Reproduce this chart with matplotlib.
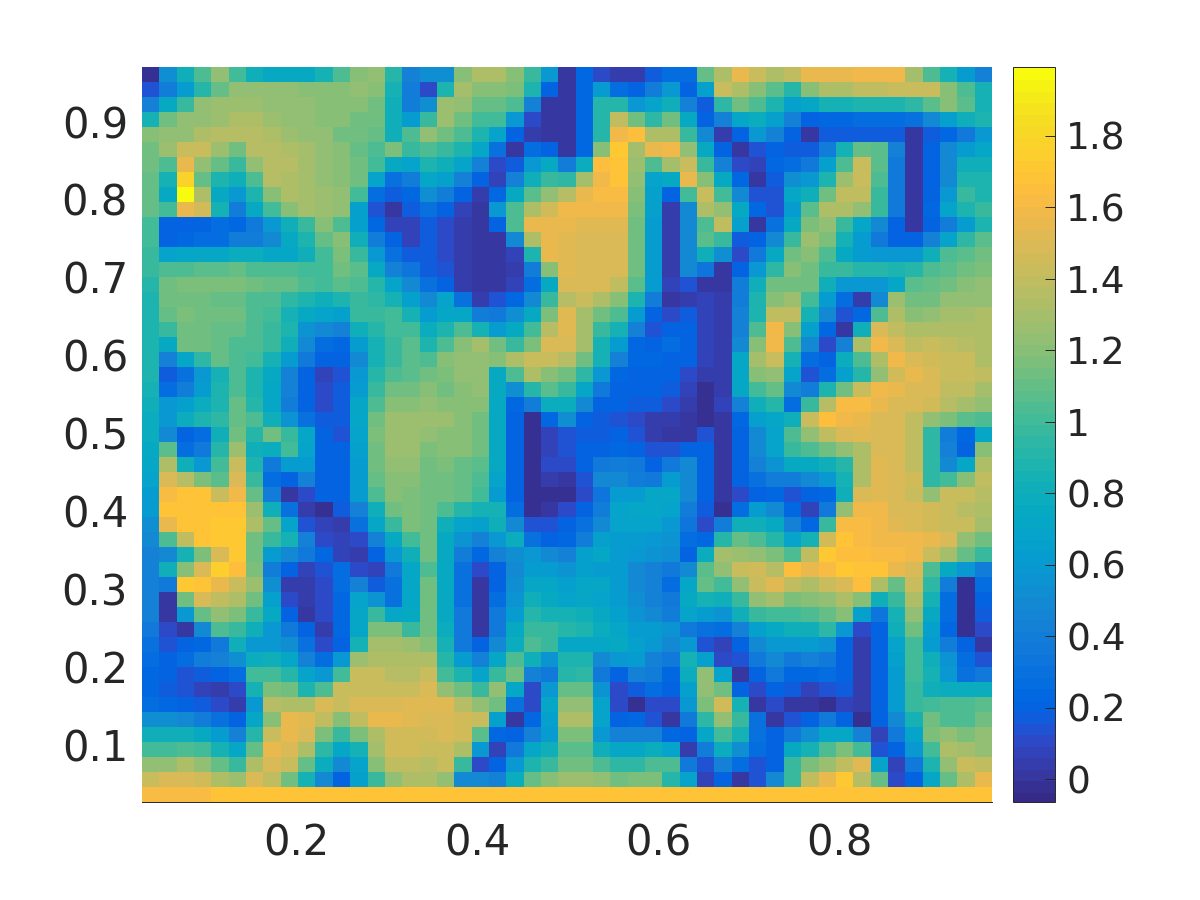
import numpy as np
import matplotlib
matplotlib.use("Agg")
import matplotlib.pyplot as plt
from matplotlib.colors import ListedColormap

r00 = [0.0,.53,.81,1.06,1.23,1.01,.81,.75,.75,.75,.86,1.06,1.19,1.23,.93,.45,.53, .53,1.19,1.32,1.32,1.19,.97,.6,.02,.25,.1,.06,.05,.18,.29,.29,1.1, 1.32,1.56,1.44,1.32,1.4,1.56,1.56,1.56,1.58,1.58,1.58,1.3,1.06,.86,.63,.43]
r01 = [.15,.39,.63,.93,1.1,1.23,1.23,1.23,1.23,1.19,1.19,1.19,1.23,1.19,.86,.39,.12, .88,1.3,1.2,1.2,1.16,.89,.2,.02,.25,.63,.29,.2,.39,.6,.22,.66, 1.44,1.35,1.19,1.08,.93,1.19,1.35,1.35,1.39,1.39,1.42,1.44,1.44,1.21,1.04,.86]
r02 = [.45,.75,.97,1.23,1.28,1.28,1.28,1.23,1.23,1.23,1.19,1.19,1.19,1.15,.83,.39,.53, 1.28,1.23,1.1,1.1,1.04,.43,.03,.02,.25,.91,.91,.58,.68,.83,.45,.18, .95,1.15,1.04,.89,.66,.71,.86,.86,.89,.89,.89,.95,1.08,1.19,1.08,.86]
r03 = [.86,1.15,1.23,1.23,1.28,1.32,1.32,1.28,1.23,1.23,1.19,1.19,1.15,1.15,.83,.63,.97, 1.28,1.13,1.01,1.01,.6,.1,.03,.02,.25,.93,1.4,1.13,.95,1.13,.75,.22, .43,.71,.79,.66,.43,.2,.25,.25,.28,.28,.28,.32,.49,.66,.83,.9]
r04 = [1.19,1.23,1.23,1.32,1.37,1.37,1.37,1.32,1.28,1.23,1.23,1.15,1.15,1.1,.81,1.06,1.23, 1.15,1.04,.88,.68,.2,.04,.02,.02,.25,.93,1.6,1.65,1.35,1.35,.97,.49, .05,.22,.58,.43,.2,.02,.17,.17,.17,.17,.17,.01,.18,.25,.36,.58]
r05 = [1.15,1.28,1.42,1.42,1.28,1.15,1.37,1.37,1.32,1.3,1.23,1.19,1.1,1.06,1.16,.97,1.06, .98,.88,.71,.32,.02,.29,.2,.02,.25,1.19,1.72,1.3,1.55,1.58,1.23,.75, .22,.03,.13,.2,.17,.17,.39,.86,1.1,1.08,.43,.01,.2,.49,.63,.71]
r06 = [1.15,1.06,1.56,1.23,1.1,.97,1.23,1.37,1.37,1.3,1.23,1.19,1.15,1.01,.75,.68,.89, .81,.68,.45,.12,.18,.58,.75,.39,.79,1.65,1.7,1.28,1.04,1.3,1.44,.98, .45,.12,.08,.25,.29,.36,.66,1.06,1.44,1.08,.36,.01,.2,.49,.83,.83]
r07 = [1.1,.86,1.8,1.1,.89,.81,1.06,1.37,1.32,1.3,1.25,1.19,1.15,.68,.32,.39,.71, .66,.43,.22,.08,.45,.83,.98,.95,1.3,1.6,1.68,1.25,.68,.75,1.56,1.19, .75,.25,.02,.18,.53,.58,.89,1.28,1.44,1.04,.36,.01,.2,.49,.9,.89]
r08 = [1.1,.75,2.0,1.32,.75,.58,.88,1.19,1.34,1.3,1.28,1.23,1.01,.29,.17,.25,.53, .39,.2,.05,.25,.75,1.08,1.25,1.37,1.56,1.62,1.62,1.21,.66,.2,1.01,1.42, 1.01,.49,.13,.15,.71,.83,1.15,1.4,1.4,.98,.36,.01,.2,.58,.97,.9]
r09 = [1.1,1.01,1.56,1.46,.86,.39,.75,1.01,1.19,1.3,1.28,1.23,.66,.15,.03,.18,.32, .2,.07,.02,.58,1.06,1.32,1.46,1.58,1.58,1.58,1.58,1.16,.66,.06,.49,1.34, 1.23,.75,.25,.15,.63,1.08,1.35,1.35,1.23,.98,.36,.01,.25,.68,.88,.98]
r10 = [1.01,.2,.22,.22,.29,.25,.36,.58,.81,.98,1.19,1.06,.66,.25,.08,.08,.18, .1,.06,.02,.2,1.06,1.57,1.57,1.57,1.53,1.53,1.53,1.15,.63,.06,.49,1.04, 1.4,.66,.02,.32,.75,1.16,1.25,.98,.71,.49,.2,.01,.2,.39,.63,.89]
r11 = [1.01,.22,.25,.28,.29,.39,.39,.49,.75,.89,1.1,1.19,.83,.39,.2,.08,.18, .12,.06,.01,.01,.49,1.35,1.56,1.53,1.51,1.51,1.51,1.15,.63,.06,.49,1.08, .98,.18,.2,.49,.97,1.28,1.16,.86,.63,.36,.2,.2,.43,.68,.95,1.08]
r12 = [.98,.68,.71,.71,.71,.79,.79,.71,.71,.83,1.01,1.16,.97,.58,.32,.17,.18, .12,.06,.01,.01,.08,.9,1.56,1.53,1.51,1.51,1.51,1.15,.63,.06,.49,.81, .53,.12,.36,.75,1.13,1.21,1.04,.75,.63,.6,.6,.6,.83,1.06,1.08,1.15]
r13 = [.98,1.06,1.06,1.08,1.08,1.1,1.06,1.06,1.06,1.01,1.01,1.13,1.08,.75,.45,.35,.17, .15,.06,.01,.01,.04,.39,1.21,1.53,1.51,1.51,1.51,1.15,.63,.06,.49,.35, .02,.2,.6,.95,1.21,1.15,.98,.97,.93,.93,.88,.93,1.04,1.08,1.13,1.16]
r14 = [.93,1.15,1.16,1.16,1.16,1.16,1.15,1.1,1.1,1.06,1.01,1.08,1.03,.93,.68,.49,.32, .2,.06,.01,.01,.09,.29,.75,1.51,1.51,1.51,1.4,1.08,.63,.07,.15,.02, .03,.39,.83,1.15,1.15,1.15,.81,.6,.58,.58,.71,1.08,1.1,1.13,1.19,1.23]
r15 = [.89,1.15,1.15,1.15,1.1,1.1,1.06,1.06,.95,.89,.83,.88,.98,.95,.86,.66,.49, .68,.32,.04,.13,.25,.49,.98,1.37,1.44,1.32,1.19,.89,.39,.03,.06,.09, .05,.39,.89,1.19,1.28,1.01,.63,.29,.05,.49,1.28,1.13,1.15,1.23,1.23,1.25]
r16 = [.89,1.1,1.16,1.13,1.13,1.13,1.06,1.01,.86,.75,.68,.66,.97,.97,1.01,.86,.63, .71,.71,.39,.36,.53,.75,1.16,1.53,1.3,1.15,1.03,.63,.22,.1,.18,.08, .05,.45,.89,1.4,1.4,.86,.49,.13,.25,1.06,1.32,1.21,1.25,1.3,1.3,1.34]
r17 = [.89,.97,1.15,1.15,1.1,1.1,1.06,.97,.89,.56,.49,.43,.83,.93,1.01,1.01,.79, .9,1.06,.86,.63,.75,1.01,1.37,1.53,1.3,.97,.86,.43,.15,.22,.22,.07, .05,.45,1.06,1.6,1.21,.66,.25,.02,.83,1.49,1.4,1.32,1.35,1.35,1.32,1.32]
r18 = [.89,.75,1.15,1.15,1.1,1.06,1.04,.97,.81,.49,.29,.25,.63,.86,.98,1.08,.89, 1.04,1.19,1.3,1.13,.98,1.16,1.51,1.51,1.3,.86,.63,.25,.22,.29,.22,.07, .05,.49,1.21,1.58,1.06,.49,.12,.43,1.32,1.58,1.49,1.4,1.44,1.4,1.38,1.34]
r19 = [.89,.45,.71,.95,1.1,1.06,1.01,.86,.63,.36,.2,.2,.49,.86,.98,1.08,1.06, 1.19,1.25,1.25,1.19,1.32,1.44,1.44,1.37,1.13,.86,.43,.25,.25,.22,.22,.07, .05,.71,1.3,1.42,.86,.29,.2,.79,1.06,1.32,1.6,1.51,1.46,1.44,1.42,1.32]
r20 = [.89,.18,.32,.6,.86,1.06,.89,.75,.43,.22,.08,.13,.58,.93,1.06,1.08,1.13, 1.16,1.23,1.23,.75,1.06,1.32,1.19,1.15,.95,.6,.25,.22,.22,.22,.12,.05, .05,.71,1.19,1.23,.68,.13,.29,.66,.93,1.23,1.46,1.56,1.51,1.44,1.44,1.4]
r21 = [.86,.29,.39,.63,.88,1.06,.9,.72,.43,.22,.1,.17,.63,.98,1.15,1.15,1.19, 1.15,1.19,1.23,.75,.53,.93,1.08,.97,.71,.36,.2,.2,.2,.18,.09,.0, .05,.71,1.01,1.1,.49,.39,.88,1.15,1.42,1.6,1.56,1.51,1.51,1.4,1.4,1.3]
r22 = [.83,.58,.66,.79,.9,1.1,.93,.71,.39,.22,.1,.18,.72,1.06,1.19,1.19,1.23, 1.19,1.19,1.19,.75,.25,.39,.79,.79,.49,.2,.2,.17,.17,.12,.04,.0, .07,.43,.83,.93,.29,.97,1.37,1.62,1.62,1.56,1.51,1.49,1.46,1.37,1.3,1.23]
r23 = [.79,.6,.79,.89,.95,1.1,1.04,.83,.56,.32,.18,.18,.72,1.13,1.28,1.28,1.28, 1.28,1.19,1.15,.75,.2,.0,.25,.53,.22,.17,.13,.1,.06,.05,.01,.0, .02,.25,.66,.71,.83,1.44,1.65,1.6,1.56,1.49,1.49,1.4,1.23,1.16,1.08,1.06]
r24 = [.79,.49,.2,.29,.81,1.15,.93,1.15,.98,.71,.2,.15,.68,1.16,1.28,1.28,1.23, 1.21,1.19,1.13,.75,.2,.0,.08,.15,.17,.18,.2,.15,.04,.02,.02,.15, .03,.2,.49,.68,1.06,1.25,1.4,1.49,1.53,1.49,1.49,1.4,.95,.39,.25,.71]
r25 = [.75,1.09,.29,.36,.93,1.28,.83,.79,1.01,.68,.2,.2,.65,1.15,1.28,1.28,1.16, 1.19,1.19,1.13,.75,.22,.0,.08,.13,.22,.22,.25,.2,.15,.13,.22,.2, .02,.2,.49,.68,.97,1.06,1.15,1.23,1.35,1.51,1.51,1.4,.95,.45,.2,1.19]
r26 = [.71,1.32,.83,.58,1.01,1.42,.89,.36,.63,.63,.2,.2,.63,1.13,1.23,1.23,1.15, 1.16,1.1,1.08,.75,.22,.0,.1,.1,.2,.36,.39,.36,.2,.36,.49,.2, .02,.2,.43,.56,.75,.75,.83,.93,1.35,1.53,1.49,1.4,.95,.49,.71,1.35]
r27 = [.68,1.51,1.37,1.16,1.08,1.49,.98,.29,.2,.43,.2,.2,.63,1.1,1.21,1.21,1.13, 1.13,1.1,1.06,.68,.22,.0,.04,.02,.15,.49,.49,.39,.36,.63,.49,.2, .02,.2,.32,.39,.39,.49,.6,.86,1.35,1.53,1.49,1.46,.95,1.01,1.19,1.4]
r28 = [.63,1.62,1.68,1.68,1.42,1.58,1.1,.39,.02,.12,.2,.2,.63,1.06,1.19,1.16,1.15, 1.13,1.1,1.01,.63,.22,.0,.0,.0,.12,.35,.63,.63,.71,.71,.49,.2, .02,.12,.2,.25,.15,.2,.25,.83,1.49,1.53,1.51,1.42,1.23,1.42,1.42,1.38]
r29 = [.63,1.7,1.7,1.7,1.7,1.7,1.28,.83,.32,.06,.0,.17,.43,.83,1.13,1.16,1.13, 1.04,.93,.86,.86,.29,.0,.03,.1,.2,.39,.68,.71,.71,.68,.39,.18, .0,.29,.63,.49,.25,.08,.36,1.25,1.58,1.58,1.51,1.49,1.46,1.42,1.37,1.34]
r30 = [.53,1.56,1.7,1.7,1.72,1.72,1.32,1.1,.68,.15,.08,.04,.32,.71,.97,1.16,1.13, .83,.68,.66,.83,.49,.15,.15,.2,.32,.51,.68,.68,.68,.6,.35,.1, .39,.81,.81,.75,.43,.25,.98,1.62,1.62,1.58,1.53,1.51,1.46,1.44,1.42,1.3]
r31 = [.49,1.06,1.4,1.7,1.72,1.72,1.13,.98,.86,.43,.12,.08,.12,.43,.75,1.01,1.13, .75,.56,.43,.58,.79,.32,.2,.25,.39,.66,.63,.63,.58,.56,.29,.25, .93,1.1,1.06,.93,.68,.86,1.46,1.68,1.63,1.58,1.58,1.58,1.56,1.51,1.25,1.13]
r32 = [.45,.49,.86,1.16,1.51,1.72,1.13,.63,.49,.36,.25,.08,.05,.22,.58,.83,1.13, .75,.39,.25,.43,.53,.58,.49,.43,.66,.71,.63,.58,.56,.53,.2,.79, 1.3,1.28,1.25,1.16,1.06,1.4,1.72,1.66,1.65,1.62,1.62,1.6,1.44,1.3,1.1,.97]
r33 = [.45,.83,1.19,1.49,1.75,1.65,1.16,.39,.2,.08,.13,.29,.1,.08,.36,.71,1.06, .75,.32,.1,.2,.49,.63,.63,.55,.66,.63,.63,.49,.43,.36,.49,1.09, 1.23,1.44,1.46,1.37,1.65,1.56,1.62,1.72,1.68,1.68,1.56,1.49,1.06,.75,.58,.39]
r34 = [.43,.36,1.72,1.68,1.56,1.44,1.28,.53,.04,.06,.1,.29,.45,.17,.32,.71,1.13, .75,.32,.01,.22,.53,.71,.71,.66,.71,.71,.63,.49,.43,.29,.71,1.1, 1.01,1.23,1.44,1.53,1.4,1.34,1.42,1.51,1.65,1.32,1.1,1.44,.95,.39,.0,.29]
r35 = [.43,.02,1.15,1.49,1.4,1.32,1.13,.66,.1,.06,.1,.25,.68,.56,.32,.71,1.15, .75,.32,.01,.29,.55,.83,.75,.68,.71,.68,.63,.53,.45,.36,.75,.86, .81,.98,1.25,1.3,1.16,1.19,1.25,1.34,1.21,.83,.97,1.32,.86,.29,.0,.22]
r36 = [.43,.03,.58,1.1,1.23,1.16,.98,.75,.2,.03,.1,.25,.71,.97,.71,.75,1.15, .75,.36,.01,.36,.63,.93,.86,.86,.83,.75,.66,.56,.49,.39,.68,.63, .56,.81,.97,1.01,1.01,1.06,1.1,1.21,.66,.35,.86,1.25,.75,.29,.0,.18]
r37 = [.36,.1,.03,.49,1.06,.98,.83,.58,.36,.2,.06,.25,.71,1.16,1.16,.98,1.15, .79,.36,.01,.36,.75,.98,.98,.93,.88,.79,.71,.63,.63,.56,.36,.32, .29,.43,.66,.75,.81,.83,.95,.58,.12,.22,.83,1.15,.66,.25,.0,.1]
r38 = [.32,.15,.22,.25,.36,.83,.6,.58,.53,.32,.1,.2,.86,1.3,1.3,1.28,1.19, .86,.36,.2,.49,.79,1.06,.97,.71,.71,.71,.75,.66,.58,.49,.58,.15, .08,.22,.49,.6,.6,.63,.56,.2,.05,.2,.68,1.01,.63,.39,.2,.02]
r39 = [.29,.2,.29,.39,.43,.53,.79,.83,.71,.45,.29,.58,1.28,1.35,1.35,1.35,1.35, .93,.63,.45,.71,1.06,.83,.56,.88,.88,.49,.58,.63,.43,.36,.86,.66, .1,.13,.36,.49,.36,.43,.36,.2,.05,.2,.66,1.01,.81,.56,.29,.13]
r40 = [.25,.2,.13,.17,.2,.29,1.01,1.01,.93,.68,.58,1.01,1.44,1.44,1.37,1.37,1.42, 1.01,.89,.68,.98,1.15,.43,.36,.93,.95,.36,.22,.43,.39,.25,.79,1.23, .68,.03,.2,.36,.25,.25,.29,.2,.05,.2,.63,1.01,.86,.58,.32,.36]
r41 = [.25,.18,.15,.08,.04,.12,.86,1.16,1.15,.9,1.06,1.44,1.44,1.44,1.44,1.44,1.51, 1.25,1.15,.98,1.23,.71,.1,.58,1.1,1.1,.56,.12,.18,.29,.2,.66,1.23, 1.13,.22,.12,.2,.18,.08,.13,.18,.05,.2,.63,.97,.83,.79,.79,.79]
r42 = [.28,.25,.2,.17,.1,.05,.58,1.37,1.32,1.32,1.51,1.44,1.48,1.48,1.48,1.53,1.53, 1.53,1.37,1.23,1.15,.32,.1,.71,1.25,1.25,.68,.1,.0,.1,.1,.58,1.16, 1.46,.86,.02,.12,.03,.02,.0,.07,.04,.2,.63,.98,1.01,1.04,1.06,1.08]
r43 = [.53,.53,.49,.39,.32,.22,.71,1.21,1.56,1.53,1.4,1.21,1.4,1.56,1.56,1.53,1.51, 1.51,1.46,1.44,.66,.03,.25,.66,1.32,1.32,.68,.22,.25,.15,.02,.36,.95, 1.25,.97,.32,.03,.14,.22,.36,.2,.0,.2,.49,.86,1.15,1.06,1.06,1.13]
r44 = [.83,.83,.81,.75,.63,.45,.93,1.44,1.56,1.49,1.16,.98,1.16,1.32,1.45,1.45,1.45, 1.48,1.46,1.08,.25,.2,.43,.63,1.16,1.16,.58,.43,.45,.43,.25,.2,.71, 1.01,.86,.32,.2,.36,.53,.71,.71,.43,.08,.36,.68,1.16,1.23,1.16,1.23]
r45 = [1.01,1.01,1.06,1.01,.86,.71,1.1,1.57,1.51,1.34,.95,.71,.86,1.3,1.45,1.45,1.42, 1.44,1.32,.58,.08,.36,.71,.83,1.08,1.08,.83,.71,.71,.79,.68,.05,.39, .79,.53,.29,.2,.75,.86,1.04,1.16,1.01,.15,.2,.58,1.01,1.35,1.3,1.25]
r46 = [1.23,1.23,1.32,1.25,1.1,.98,1.35,1.49,1.44,1.12,.79,.49,.68,1.21,1.4,1.4,1.37, 1.42,.97,.12,.2,.58,.89,.98,1.15,1.15,1.06,.95,.95,1.06,1.06,.36,.15, .43,.29,.15,.2,.97,1.16,1.28,1.4,1.53,.68,.08,.36,.88,1.23,1.44,1.4]
r47 = [1.42,1.48,1.48,1.45,1.35,1.28,1.48,1.39,1.15,.86,.49,.2,.66,.98,1.23,1.35,1.35, 1.23,.49,.49,.43,.79,1.1,1.21,1.28,1.28,1.23,1.13,1.16,1.16,.93,.68,.08, .2,.02,.15,.49,.97,1.4,1.56,1.72,1.37,1.1,.12,.22,.71,1.1,1.35,1.56]
r48 = [1.63,1.63,1.63,1.63,1.68,1.68,1.68,1.68,1.68,1.68,1.68,1.68,1.68,1.68,1.68,1.68,1.68, 1.68,1.68,1.68,1.68,1.68,1.68,1.68,1.68,1.68,1.68,1.68,1.68,1.68,1.68,1.68,1.68, 1.68,1.68,1.68,1.68,1.68,1.68,1.68,1.68,1.68,1.68,1.68,1.68,1.68,1.68,1.68,1.68]

rows_top_down = [r00,r01,r02,r03,r04,r05,r06,r07,r08,r09,r10,r11,r12,r13,r14,r15,r16,r17,r18,r19,r20,r21,r22,r23,r24,
                 r25,r26,r27,r28,r29,r30,r31,r32,r33,r34,r35,r36,r37,r38,r39,r40,r41,r42,r43,r44,r45,r46,r47,r48]

x_limits = [0.0298, 0.969]
y_limits = [0.0268, 0.970]
x_ticks = [0.2, 0.4, 0.6, 0.8]
y_ticks = [0.1, 0.2, 0.3, 0.4, 0.5, 0.6, 0.7, 0.8, 0.9]
cbar_ticks = [0, 0.2, 0.4, 0.6, 0.8, 1, 1.2, 1.4, 1.6, 1.8]
cbar_labels = ["0", "0.2", "0.4", "0.6", "0.8", "1", "1.2", "1.4", "1.6", "1.8"]
v_limits = [-0.063, 1.993]

parula = ListedColormap([
[0.2081,0.1663,0.5292],[0.2116,0.1898,0.5777],[0.2123,0.2138,0.6270],[0.2081,0.2386,0.6771],
[0.1959,0.2645,0.7279],[0.1707,0.2919,0.7792],[0.1253,0.3242,0.8303],[0.0591,0.3598,0.8683],
[0.0117,0.3875,0.8820],[0.0060,0.4086,0.8828],[0.0165,0.4266,0.8786],[0.0329,0.4430,0.8720],
[0.0498,0.4586,0.8641],[0.0629,0.4737,0.8554],[0.0723,0.4887,0.8467],[0.0779,0.5040,0.8384],
[0.0793,0.5200,0.8312],[0.0749,0.5375,0.8263],[0.0641,0.5570,0.8240],[0.0488,0.5772,0.8228],
[0.0343,0.5966,0.8199],[0.0265,0.6137,0.8135],[0.0239,0.6287,0.8038],[0.0231,0.6418,0.7913],
[0.0228,0.6535,0.7768],[0.0267,0.6642,0.7607],[0.0384,0.6743,0.7436],[0.0590,0.6838,0.7254],
[0.0843,0.6928,0.7062],[0.1133,0.7015,0.6859],[0.1453,0.7098,0.6646],[0.1801,0.7177,0.6424],
[0.2178,0.7250,0.6193],[0.2586,0.7317,0.5954],[0.3022,0.7376,0.5712],[0.3482,0.7424,0.5473],
[0.3953,0.7459,0.5244],[0.4420,0.7481,0.5033],[0.4871,0.7491,0.4840],[0.5300,0.7491,0.4661],
[0.5709,0.7485,0.4494],[0.6099,0.7473,0.4337],[0.6473,0.7456,0.4188],[0.6834,0.7435,0.4044],
[0.7184,0.7411,0.3905],[0.7525,0.7384,0.3768],[0.7858,0.7356,0.3633],[0.8185,0.7327,0.3498],
[0.8507,0.7299,0.3360],[0.8824,0.7274,0.3217],[0.9139,0.7258,0.3063],[0.9450,0.7261,0.2886],
[0.9739,0.7314,0.2666],[0.9938,0.7455,0.2403],[0.9990,0.7653,0.2164],[0.9955,0.7861,0.1967],
[0.9880,0.8066,0.1794],[0.9789,0.8271,0.1633],[0.9697,0.8481,0.1475],[0.9626,0.8705,0.1309],
[0.9589,0.8949,0.1132],[0.9598,0.9218,0.0948],[0.9661,0.9514,0.0755],[0.9763,0.9831,0.0538]])

Z = np.array(rows_top_down, dtype=float)[::-1]
x_edges = np.linspace(x_limits[0], x_limits[1], Z.shape[1] + 1)
y_edges = np.linspace(y_limits[0], y_limits[1], Z.shape[0] + 1)

ink = "#262626"
fig = plt.figure(figsize=(12, 9), dpi=100)
ax = fig.add_axes([142/1200, 1 - 802/900, 850/1200, 735/900])
mesh = ax.pcolormesh(x_edges, y_edges, Z, cmap=parula, vmin=v_limits[0], vmax=v_limits[1],
                     shading="flat", linewidth=0, antialiased=False)
ax.set_xlim(x_limits)
ax.set_ylim(y_limits)
ax.set_xticks(x_ticks, [f"{t:.1f}" for t in x_ticks])
ax.set_yticks(y_ticks, [f"{t:.1f}" for t in y_ticks])
ax.tick_params(axis="x", length=0, labelsize=30, labelcolor=ink, pad=15)
ax.tick_params(axis="y", length=0, labelsize=30, labelcolor=ink, pad=10)
for name in ("top", "left", "right"):
    ax.spines[name].set_visible(False)
ax.spines["bottom"].set_color(ink)
ax.spines["bottom"].set_linewidth(0.7)

cax = fig.add_axes([1013/1200, 1 - 802/900, 42/1200, 735/900])
cb = fig.colorbar(mesh, cax=cax)
cb.set_ticks(cbar_ticks, labels=cbar_labels)
cb.ax.tick_params(axis="y", direction="in", length=7, width=0.7, color=ink, labelsize=27, labelcolor=ink, pad=8)
cb.outline.set_edgecolor(ink)
cb.outline.set_linewidth(0.7)
cb.solids.set_edgecolor("face")

fig.savefig("out.png", dpi=100)
